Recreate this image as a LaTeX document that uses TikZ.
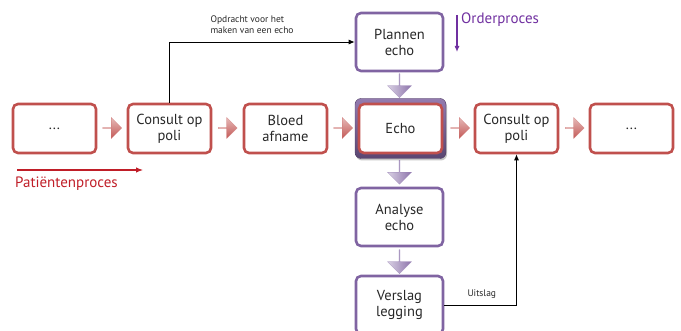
\documentclass[tikz,border=0pt]{standalone}
\usepackage{fontspec}
\setmainfont{PT Sans}
\usetikzlibrary{shapes.arrows,arrows.meta,shadows}
\definecolor{boxred}{RGB}{192,80,77}
\definecolor{boxpurple}{RGB}{128,100,162}
\definecolor{txtred}{RGB}{192,30,40}
\definecolor{txtpurple}{RGB}{112,48,160}
\definecolor{txtgray}{RGB}{40,40,40}
\begin{document}
\begin{tikzpicture}[x=1pt,y=-1pt,
  basebox/.style={line width=2.6pt, rounded corners=5pt, fill=white, align=center,
    font=\fontsize{14.5}{16}\selectfont, text=txtgray, inner sep=0pt},
  redbox/.style={basebox, draw=boxred, minimum width=83pt, minimum height=49pt},
  purplebox/.style={basebox, draw=boxpurple, minimum width=87pt, minimum height=58pt},
  echoframe/.style={rounded corners=6pt, minimum width=91pt, minimum height=60pt,
    top color=boxpurple!85, bottom color=boxpurple!70!black, draw=boxpurple!60!black,
    drop shadow={shadow xshift=1pt, shadow yshift=-2pt, opacity=0.45}},
  rarrow/.style={shape=single arrow, single arrow head extend=3.5pt, minimum width=21pt,
    minimum height=19pt, inner sep=0pt, top color=boxred!40, bottom color=boxred!95,
    draw=boxred!80, line width=0.3pt},
  darrow/.style={shape=single arrow, shape border rotate=270, single arrow head extend=3.5pt,
    minimum width=24pt, minimum height=24pt, inner sep=0pt, left color=boxpurple!30,
    right color=boxpurple!90, draw=boxpurple!80, line width=0.3pt},
  conn/.style={line width=0.9pt, -{Latex[length=6pt,width=5pt]}},
  small/.style={font=\fontsize{9.5}{11}\selectfont, text=txtgray, align=left}
]
\useasboundingbox (0,0) rectangle (681,331);

% red row
\node[redbox] (b1) at (54.5,128.5) {...};
\node[redbox] (b2) at (169.5,128.5) {Consult op\\poli};
\node[redbox] (b3) at (285.5,128.5) {Bloed\\afname};
\node[echoframe] (ef) at (400.5,128.5) {};
\node[redbox] (echo) at (400.5,128.5) {Echo};
\node[redbox] (b5) at (516.5,128.5) {Consult op\\poli};
\node[redbox] (b6) at (631.5,128.5) {...};

% purple column
\node[purplebox] (plan) at (399.5,42) {Plannen\\echo};
\node[purplebox] (ana) at (399.5,217) {Analyse\\echo};
\node[purplebox] (vers) at (399.5,305) {Verslag\\legging};

% block arrows
\node[rarrow] (a1) at (112,128) {};
\node[rarrow] (a2) at (227.5,128) {};
\node[rarrow] (a3) at (343,128) {};
\node[rarrow] (a4) at (460,128) {};
\node[rarrow] (a5) at (574.5,128) {};
\node[darrow] (d1) at (399.5,85.5) {};
\node[darrow] (d2) at (399.5,172) {};
\node[darrow] (d3) at (399.5,261.5) {};

% connectors
\draw[conn] (b2.north) |- (plan.west);
\node[small, anchor=south west] (lopd) at (207,37) {Opdracht voor het\\maken van een echo};
\draw[conn] (vers.east) -| (b5.south);
\node[small, anchor=south west] (luit) at (464,302) {Uitslag};

% process indicators
\coordinate (o1) at (457,15);
\coordinate (o2) at (457,52);
\draw[txtpurple, line width=1.1pt, -{Latex[length=6pt,width=5pt]}] (o1) -- (o2);
\node[anchor=west, text=txtpurple, font=\fontsize{15}{16}\selectfont, inner sep=0pt] (lord) at (461,20) {Orderproces};

\coordinate (p1) at (17,170);
\coordinate (p2) at (143,170);
\draw[txtred, line width=1.1pt, -{Latex[length=7pt,width=5.5pt]}] (p1) -- (p2);
\node[anchor=west, text=txtred, font=\fontsize{15}{16}\selectfont, inner sep=0pt] (lpat) at (15,184) {Patiëntenproces};
\end{tikzpicture}
\end{document}
